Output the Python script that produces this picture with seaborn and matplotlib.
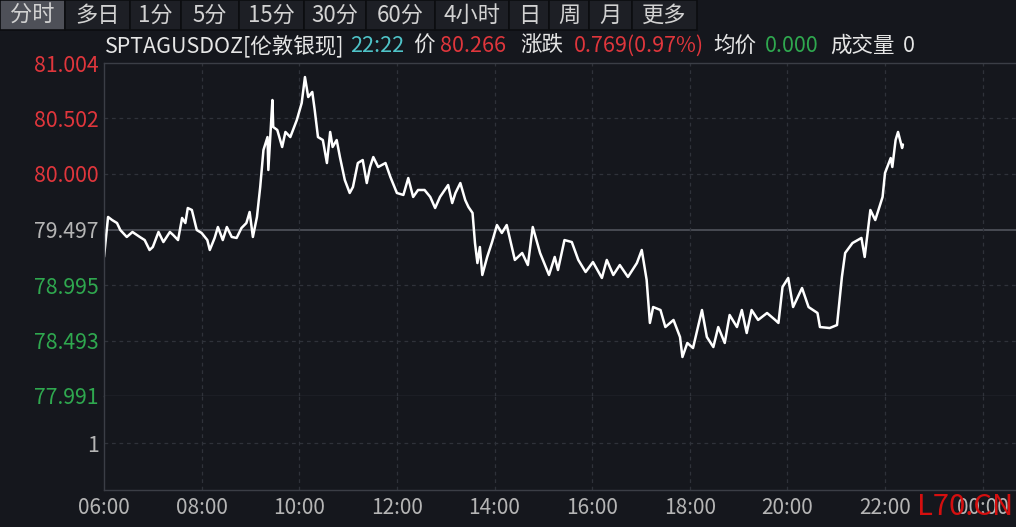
import matplotlib
matplotlib.use("Agg")
import matplotlib.pyplot as plt
import matplotlib.dates as mdates
from matplotlib.patches import Rectangle
import pandas as pd
import seaborn as sns

# 伦敦银现 分时数据
times = ["06:00", "06:05", "06:10", "06:16", "06:20", "06:28", "06:35", "06:44", "06:50", "06:56",
         "07:00", "07:07", "07:13", "07:21", "07:25", "07:31", "07:36", "07:40", "07:43", "07:48",
         "07:54", "08:00", "08:07", "08:10", "08:16", "08:20", "08:26", "08:31", "08:37", "08:43",
         "08:49", "08:55", "08:59", "09:03", "09:08", "09:12", "09:16", "09:21", "09:22", "09:27",
         "09:28", "09:33", "09:39", "09:43", "09:49", "09:57", "10:03", "10:07", "10:11", "10:16",
         "10:19", "10:23", "10:29", "10:34", "10:38", "10:41", "10:46", "10:50", "10:56", "11:02",
         "11:06", "11:12", "11:18", "11:23", "11:27", "11:31", "11:37", "11:46", "11:52", "12:00",
         "12:08", "12:14", "12:20", "12:26", "12:34", "12:41", "12:47", "12:53", "13:03", "13:08",
         "13:12", "13:18", "13:24", "13:28", "13:33", "13:36", "13:39", "13:42", "13:45", "13:51",
         "13:57", "14:03", "14:09", "14:15", "14:25", "14:34", "14:41", "14:47", "14:56", "15:07",
         "15:14", "15:18", "15:26", "15:35", "15:43", "15:52", "16:01", "16:12", "16:18", "16:26",
         "16:34", "16:44", "16:55", "17:01", "17:07", "17:11", "17:15", "17:24", "17:30", "17:40",
         "17:48", "17:51", "17:57", "18:04", "18:15", "18:21", "18:29", "18:35", "18:43", "18:49",
         "18:58", "19:04", "19:10", "19:16", "19:24", "19:35", "19:45", "19:49", "19:54", "20:01",
         "20:07", "20:18", "20:26", "20:37", "20:40", "20:52", "21:01", "21:07", "21:11", "21:20",
         "21:31", "21:35", "21:42", "21:48", "21:57", "22:00", "22:07", "22:09", "22:13", "22:16",
         "22:21", "22:22"]
prices = [79.249, 79.611, 79.583, 79.556, 79.493, 79.430, 79.475, 79.430, 79.402, 79.312,
          79.339, 79.475, 79.384, 79.475, 79.448, 79.402, 79.602, 79.556, 79.692, 79.674,
          79.493, 79.466, 79.402, 79.312, 79.421, 79.520, 79.402, 79.520, 79.430, 79.421,
          79.511, 79.556, 79.656, 79.430, 79.611, 79.882, 80.217, 80.334, 80.036, 80.669,
          80.425, 80.398, 80.244, 80.380, 80.334, 80.488, 80.642, 80.877, 80.696, 80.742,
          80.579, 80.334, 80.307, 80.099, 80.380, 80.244, 80.307, 80.153, 79.945, 79.828,
          79.882, 80.099, 80.126, 79.918, 80.063, 80.153, 80.063, 80.099, 79.973, 79.828,
          79.810, 79.963, 79.792, 79.855, 79.855, 79.792, 79.692, 79.792, 79.900, 79.737,
          79.828, 79.918, 79.764, 79.701, 79.647, 79.375, 79.194, 79.339, 79.086, 79.249,
          79.384, 79.538, 79.466, 79.538, 79.222, 79.285, 79.176, 79.520, 79.285, 79.086,
          79.249, 79.131, 79.402, 79.384, 79.222, 79.113, 79.203, 79.059, 79.222, 79.086,
          79.176, 79.068, 79.194, 79.312, 79.041, 78.652, 78.796, 78.769, 78.615, 78.679,
          78.525, 78.344, 78.471, 78.425, 78.769, 78.525, 78.434, 78.615, 78.471, 78.724,
          78.615, 78.769, 78.561, 78.769, 78.679, 78.742, 78.679, 78.652, 78.977, 79.059,
          78.796, 78.968, 78.796, 78.742, 78.615, 78.606, 78.633, 79.068, 79.285, 79.375,
          79.421, 79.249, 79.674, 79.583, 79.792, 80.009, 80.144, 80.063, 80.307, 80.380,
          80.235, 80.266]

prev_close = 79.497
price_ticks = [81.004, 80.502, 80.000, 79.497, 78.995, 78.493, 77.991]
hour_ticks = ["06:00", "08:00", "10:00", "12:00", "14:00", "16:00", "18:00", "20:00", "22:00", "00:00"]
tabs = ["分时", "多日", "1分", "5分", "15分", "30分", "60分", "4小时", "日", "周", "月", "更多"]
tab_edges = [0, 65, 130, 181, 239, 304, 366, 435, 509, 549, 589, 632, 697]

df = pd.DataFrame({"time": pd.to_datetime("2024-01-01 " + pd.Series(times)), "price": prices})
tick_dates = [pd.Timestamp("2024-01-01 " + t) for t in hour_ticks[:-1]] + [pd.Timestamp("2024-01-02 00:00")]

sns.set_theme(style="dark")
plt.rcParams["font.family"] = ["Noto Sans CJK SC", "DejaVu Sans"]
plt.rcParams["axes.unicode_minus"] = False

BG = "#15171d"
GRID = "#2f323a"
SPINE = "#3b3e46"
RED = "#e0363c"
GREEN = "#2fa84f"
GRAY = "#b5b5b5"
W, H = 1016, 527

fig = plt.figure(figsize=(10.16, 5.27), dpi=100, facecolor=BG)
ax = fig.add_axes([104 / W, 1 - 396 / H, (W - 104) / W, (396 - 63) / H], facecolor=BG)
axv = fig.add_axes([104 / W, 1 - 490 / H, (W - 104) / W, (490 - 396) / H], facecolor=BG, sharex=ax)

# 价格走势
sns.lineplot(data=df, x="time", y="price", ax=ax, color="white", linewidth=1.8)
ax.set_ylim(77.991, 81.004)
ax.set_xlim(pd.Timestamp("2024-01-01 06:00"), pd.Timestamp("2024-01-02 00:41"))
ax.set_xlabel("")
ax.set_ylabel("")

for v in price_ticks[1:-1]:
    if v != prev_close:
        ax.axhline(v, color=GRID, lw=0.9, ls=(0, (3, 3)), zorder=0)
ax.axhline(prev_close, color="#4c4f57", lw=1.3, zorder=0)
for d in tick_dates[1:]:
    ax.axvline(d, color=GRID, lw=0.9, ls=(0, (3, 3)), zorder=0)
    axv.axvline(d, color=GRID, lw=0.9, ls=(0, (3, 3)), zorder=0)
axv.axhline(1, color=GRID, lw=0.9, ls=(0, (3, 3)), zorder=0)

ax.set_yticks(price_ticks)
ax.set_yticklabels([f"{v:.3f}" for v in price_ticks])
for lab, v in zip(ax.get_yticklabels(), price_ticks):
    lab.set_color(RED if v > prev_close else (GREEN if v < prev_close else GRAY))
ax.tick_params(axis="y", length=0, pad=4, labelsize=15.3)
ax.tick_params(axis="x", bottom=False, labelbottom=False)

# 成交量区
axv.set_ylim(0, 2)
axv.set_yticks([1])
axv.set_yticklabels(["1"])
axv.tick_params(axis="y", length=0, pad=4, labelsize=15.3, colors=GRAY)
axv.set_xticks(tick_dates)
axv.set_xticklabels(hour_ticks)
axv.tick_params(axis="x", length=0, pad=5, labelsize=15, colors=GRAY)
axv.set_xlabel("")
axv.set_ylabel("")

for a in (ax, axv):
    a.grid(False)
    for s in a.spines.values():
        s.set_color(SPINE)
        s.set_linewidth(1.0)
    a.spines["right"].set_visible(False)
axv.spines["top"].set_visible(False)

# 顶部标签栏
for i, name in enumerate(tabs):
    x0, x1 = tab_edges[i], tab_edges[i + 1]
    fc = "#4e5058" if i == 0 else "#1d1f25"
    fig.patches.append(Rectangle((x0 / W, 1 - 30 / H), (x1 - x0) / W, 30 / H,
                                 transform=fig.transFigure, facecolor=fc,
                                 edgecolor="#0c0d10", lw=1.2))
    fig.text((x0 + x1) / 2 / W, 1 - 15 / H, name, color="#d2d2d2", fontsize=16,
             ha="center", va="center")

# 行情信息
header = [(105, "SPTAGUSDOZ[伦敦银现]", "#e6e6e6"), (350, "22:22", "#4fc3c8"),
          (413, "价", "#e6e6e6"), (440, "80.266", RED), (520, "涨跌", "#e6e6e6"),
          (574, "0.769(0.97%)", RED), (713, "均价", "#e6e6e6"), (765, "0.000", GREEN),
          (830, "成交量", "#e6e6e6"), (903, "0", "#e6e6e6")]
for x, s, c in header:
    fig.text(x / W, 1 - 46 / H, s, color=c, fontsize=15.5, ha="left", va="center")

fig.text(1013 / W, 1 - 507 / H, "L70.CN", color="#d40f0f", fontsize=21,
         ha="right", va="center")

fig.savefig("out.png", dpi=100, facecolor=BG)
